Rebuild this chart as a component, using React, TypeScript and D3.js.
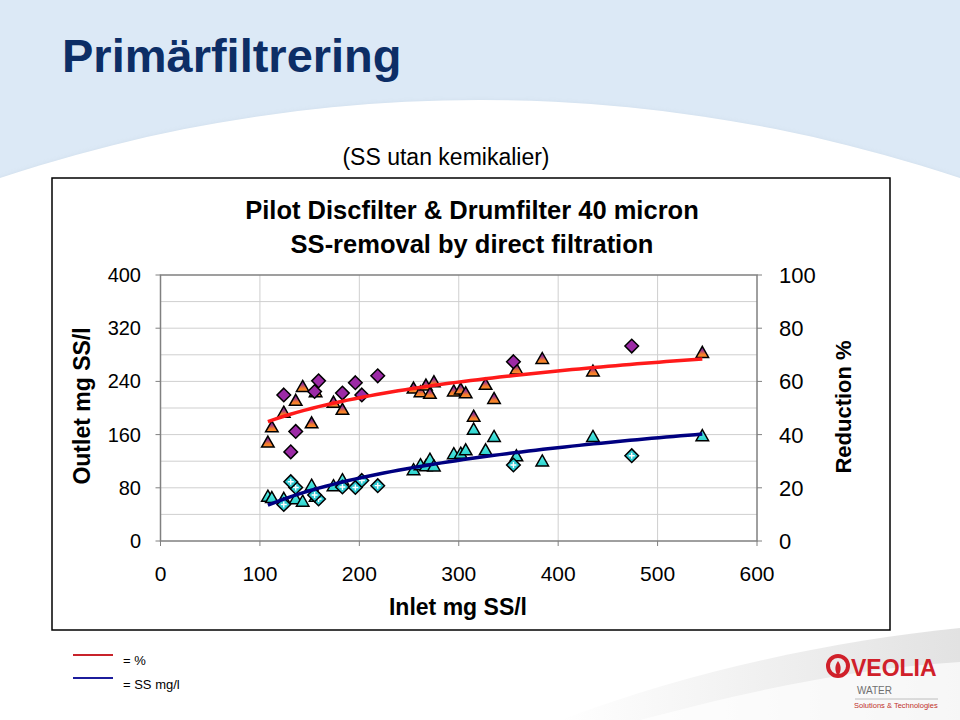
import React from "react";
import * as d3 from "d3";

// ---- data ----
const discInlet = [124, 159, 155, 136, 131, 183, 196, 202.5, 218.5, 355, 474];
const discPct = [54.9, 60.2, 56.2, 41.2, 33.5, 55.6, 59.5, 54.9, 62.1, 67.4, 73.3];
const discOutlet = [54.9, 63.2, 69.2, 80.5, 89.2, 81.2, 80.5, 91, 83.2, 114.3, 128.3];

const drumInlet = [108, 112, 124, 136, 143, 156, 152, 174, 183, 254.5, 261.5, 267, 271, 275, 295, 302, 307, 327, 335.5, 315, 358, 384, 435, 545];
const drumPct = [36.9, 42.6, 48.1, 52.6, 57.8, 55.8, 44.1, 51.9, 49.2, 57.2, 55.8, 58.3, 55.2, 59.6, 56.1, 56.8, 55.4, 58.6, 53.3, 46.6, 64.4, 68.3, 63.6, 70.6];
const drumOutlet = [66.2, 64, 63, 62.4, 58.6, 66.2, 82.7, 82, 91, 106, 113.5, 112, 121.8, 111.7, 130, 130.8, 135.8, 135.8, 156, 167, 126.8, 119.2, 156, 157.2];

const xTicks = [0, 100, 200, 300, 400, 500, 600];
const yLeftTicks = [0, 80, 160, 240, 320, 400];
const yRightTicks = [0, 20, 40, 60, 80, 100];

const FONT = "'Liberation Sans', Arial, Helvetica, sans-serif";

function logFit(xs: number[], ys: number[]) {
  const lx = xs.map((v) => Math.log(v));
  const mx = d3.mean(lx)!;
  const my = d3.mean(ys)!;
  let num = 0, den = 0;
  lx.forEach((l, i) => {
    num += (l - mx) * (ys[i] - my);
    den += (l - mx) * (l - mx);
  });
  const a = num / den;
  const b = my - a * mx;
  return (x: number) => a * Math.log(x) + b;
}

export default function App() {
  const x = d3.scaleLinear().domain([0, 600]).range([160.5, 757]);
  const yL = d3.scaleLinear().domain([0, 400]).range([541, 275]);
  const yR = d3.scaleLinear().domain([0, 100]).range([541, 275]);

  const allInlet = [...discInlet, ...drumInlet];
  const pctFit = logFit(allInlet, [...discPct, ...drumPct]);
  const ssFit = logFit(allInlet, [...discOutlet, ...drumOutlet]);
  const [xmin, xmax] = d3.extent(allInlet) as [number, number];
  const xs = d3.range(0, 61).map((i) => xmin + ((xmax - xmin) * i) / 60);

  const pctLine = d3.line<number>().x((d) => x(d)).y((d) => yR(pctFit(d)))(xs)!;
  const ssLine = d3.line<number>().x((d) => x(d)).y((d) => yL(ssFit(d)))(xs)!;

  const tri = (cx: number, cy: number) => {
    const h = 11, w = 12.5;
    return `M${cx},${cy - h * 0.62}L${cx + w / 2},${cy + h * 0.38}L${cx - w / 2},${cy + h * 0.38}Z`;
  };
  const dia = (cx: number, cy: number) => {
    const r = 6.8;
    return `M${cx},${cy - r}L${cx + r},${cy}L${cx},${cy + r}L${cx - r},${cy}Z`;
  };

  const [plotL, plotR, plotT, plotB] = [x(0), x(600), yL(400), yL(0)];

  return (
    <svg width={960} height={720} style={{ position: "absolute", left: 0, top: 0 }} fontFamily={FONT}>
      <defs>
        <linearGradient id="triGrad" x1="0" y1="0" x2="0" y2="1">
          <stop offset="0" stopColor="#5e1d8a" />
          <stop offset="0.35" stopColor="#9a3590" />
          <stop offset="0.7" stopColor="#f47a2a" />
          <stop offset="1" stopColor="#fb9330" />
        </linearGradient>
        <linearGradient id="cyanGrad" x1="0" y1="0" x2="0" y2="1">
          <stop offset="0" stopColor="#5cf0ea" />
          <stop offset="1" stopColor="#2cd2cc" />
        </linearGradient>
        <linearGradient id="greyGrad" x1="0" y1="0" x2="1" y2="0">
          <stop offset="0" stopColor="#ffffff" />
          <stop offset="1" stopColor="#e2e2e2" />
        </linearGradient>
        <filter id="soft" x="-10%" y="-10%" width="120%" height="120%">
          <feGaussianBlur stdDeviation="3" />
        </filter>
      </defs>

      {/* background */}
      <rect x={0} y={0} width={960} height={720} fill="#dce9f6" />
      <circle cx={480} cy={1618} r={1515} fill="#9fb0c0" filter="url(#soft)" opacity={0.6} />
      <circle cx={480} cy={1615} r={1515} fill="#ffffff" />
      <path d="M560,720 C700,668 840,640 960,628 L960,720 Z" fill="url(#greyGrad)" />
      <path d="M640,720 C760,688 860,668 960,662 L960,720 Z" fill="#ffffff" opacity={0.7} />

      {/* page title */}
      <text x={62} y={72} fontSize={47} fontWeight="bold" fill="#0d2e66">Primärfiltrering</text>
      <text x={446} y={165} fontSize={23} textAnchor="middle" fill="#000">(SS utan kemikalier)</text>

      {/* chart box */}
      <rect x={52} y={178} width={838} height={452} fill="#fff" stroke="#000" strokeWidth={1.5} />

      <text x={472} y={219} fontSize={25.5} fontWeight="bold" textAnchor="middle">Pilot Discfilter &amp; Drumfilter 40 micron</text>
      <text x={472} y={253} fontSize={25.5} fontWeight="bold" textAnchor="middle">SS-removal by direct filtration</text>

      {/* grid */}
      {d3.range(40, 400, 40).map((v) => (
        <line key={"h" + v} x1={plotL} x2={plotR} y1={yL(v)} y2={yL(v)} stroke="#cfcfcf" strokeWidth={1} />
      ))}
      {[100, 200, 300, 400, 500].map((v) => (
        <line key={"v" + v} x1={x(v)} x2={x(v)} y1={plotT} y2={plotB} stroke="#cfcfcf" strokeWidth={1} />
      ))}
      <rect x={plotL} y={plotT} width={plotR - plotL} height={plotB - plotT} fill="none" stroke="#808080" strokeWidth={1.5} />

      {/* ticks */}
      {yLeftTicks.map((v) => (
        <g key={"yl" + v}>
          <line x1={plotL - 5} x2={plotL} y1={yL(v)} y2={yL(v)} stroke="#808080" />
          <text x={141} y={yL(v) + 7} fontSize={20} textAnchor="end">{v}</text>
        </g>
      ))}
      {yRightTicks.map((v) => (
        <g key={"yr" + v}>
          <line x1={plotR} x2={plotR + 5} y1={yR(v)} y2={yR(v)} stroke="#808080" />
          <text x={779} y={yR(v) + 8} fontSize={22} textAnchor="start">{v}</text>
        </g>
      ))}
      {xTicks.map((v) => (
        <g key={"x" + v}>
          <line x1={x(v)} x2={x(v)} y1={plotB} y2={plotB + 5} stroke="#808080" />
          <text x={x(v)} y={581} fontSize={21} textAnchor="middle">{v}</text>
        </g>
      ))}

      {/* axis titles */}
      <text transform="translate(90,406) rotate(-90)" fontSize={23} fontWeight="bold" textAnchor="middle">Outlet mg SS/l</text>
      <text transform="translate(851,407) rotate(-90)" fontSize={22} fontWeight="bold" textAnchor="middle">Reduction %</text>
      <text x={458} y={615} fontSize={23} fontWeight="bold" textAnchor="middle">Inlet mg SS/l</text>

      {/* markers: reduction % */}
      {drumInlet.map((v, i) => (
        <path key={"tp" + i} d={tri(x(v), yR(drumPct[i]))} fill="url(#triGrad)" stroke="#000" strokeWidth={1.5} strokeLinejoin="miter" />
      ))}
      {discInlet.map((v, i) => (
        <path key={"dp" + i} d={dia(x(v), yR(discPct[i]))} fill="#9c2aa6" stroke="#000" strokeWidth={1.5} />
      ))}
      {/* markers: outlet SS */}
      {drumInlet.map((v, i) => (
        <path key={"ts" + i} d={tri(x(v), yL(drumOutlet[i]))} fill="url(#cyanGrad)" stroke="#000" strokeWidth={1.5} />
      ))}
      {discInlet.map((v, i) => {
        const cx = x(v), cy = yL(discOutlet[i]);
        return (
          <g key={"ds" + i}>
            <path d={dia(cx, cy)} fill="#2cc8d0" stroke="#000" strokeWidth={1.5} />
            <path d={`M${cx - 3},${cy}H${cx + 3}M${cx},${cy - 3}V${cy + 3}`} stroke="#fff" strokeWidth={1.4} />
          </g>
        );
      })}

      {/* trend lines */}
      <path d={pctLine} fill="none" stroke="#ff1a1a" strokeWidth={3.5} />
      <path d={ssLine} fill="none" stroke="#000080" strokeWidth={3.5} />

      {/* legend */}
      <line x1={73} x2={113} y1={655} y2={655} stroke="#c8232b" strokeWidth={2} />
      <text x={123} y={665} fontSize={13}>= %</text>
      <line x1={73} x2={113} y1={678} y2={678} stroke="#1c1c9c" strokeWidth={2} />
      <text x={123} y={689} fontSize={13}>= SS mg/l</text>

      {/* logo */}
      <g>
        <circle cx={838} cy={666} r={10} fill="none" stroke="#d0202a" strokeWidth={4} />
        <path d="M838,661 C834,666 835,672 838,676 C841,672 842,666 838,661 Z" fill="#d0202a" />
        <text x={851} y={676} fontSize={23} fontWeight="bold" fill="#d0202a">VEOLIA</text>
        <text x={857} y={694} fontSize={10} fill="#707070">WATER</text>
        <line x1={855} x2={938} y1={699} y2={699} stroke="#b0b0b0" strokeWidth={0.8} />
        <text x={854} y={708} fontSize={7.5} fill="#c0302a">Solutions &amp; Technologies</text>
      </g>
    </svg>
  );
}
